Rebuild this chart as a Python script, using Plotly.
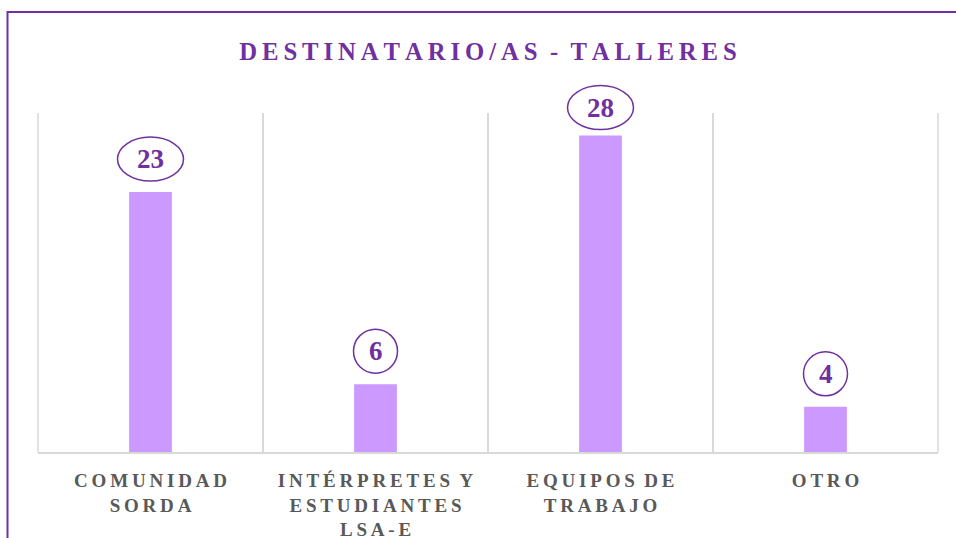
import plotly.graph_objects as go

categories = ["COMUNIDAD SORDA", "INTÉRPRETES Y ESTUDIANTES LSA-E", "EQUIPOS DE TRABAJO", "OTRO"]
tick_lines = [["COMUNIDAD", "SORDA"], ["INTÉRPRETES Y", "ESTUDIANTES", "LSA-E"], ["EQUIPOS DE", "TRABAJO"], ["OTRO"]]
values = [23, 6, 28, 4]
title_text = "DESTINATARIO/AS - TALLERES"
YMAX = 30

PURPLE = "#7030A0"
BAR = "#CC99FF"
GRID = "#D9D9D9"
LABEL = "#595959"
FONT = "Liberation Serif"

W, H = 956, 538
L, R, T, B = 38, 18, 113, 86
PH = H - T - B


def spaced(s, gap=" ", wordgap="\u00a0\u00a0\u00a0"):
    words = s.split(" ")
    return wordgap.join(gap.join(list(w)) for w in words)


ticktext = ["<b>" + "</b><br><b>".join(spaced(l, gap="\u2009", wordgap="\u00a0\u00a0") for l in lines) + "</b>"
            for lines in tick_lines]

fig = go.Figure()
fig.add_trace(go.Bar(
    x=categories, y=values, marker=dict(color=BAR, line=dict(width=0)),
    width=0.19, hoverinfo="skip",
))

vmax = max(values)
n = len(categories)
for i, v in enumerate(values):
    two = len(str(v)) > 1
    off = 28 if v == vmax else 33
    fig.add_shape(type="circle", xref="paper", yref="paper", xsizemode="pixel", ysizemode="pixel",
                  xanchor=(i + 0.5) / n, yanchor=v / YMAX,
                  x0=-(33 if two else 22), x1=(33 if two else 22),
                  y0=off - 22, y1=off + 22,
                  line=dict(color=PURPLE, width=1.5), fillcolor="white", layer="above")
    fig.add_annotation(x=i, y=v, text=f"<b>{v}</b>", showarrow=False, yshift=off,
                       font=dict(family=FONT, size=27, color=PURPLE))

# outer edge gridlines of the plot area
for xe in (0, 1):
    fig.add_shape(type="line", xref="paper", yref="paper", x0=xe, x1=xe, y0=0, y1=1,
                  line=dict(color=GRID, width=1.5), layer="below")

# outer chart border (extends beyond the visible frame)
fig.add_shape(type="rect", xref="paper", yref="paper", x0=(7.5 - L) / (W - L - R), x1=1.5,
              y0=-1, y1=(H - B - 12) / PH, line=dict(color=PURPLE, width=2), layer="above")

fig.update_layout(
    width=W, height=H,
    margin=dict(l=L, r=R, t=T, b=B, autoexpand=False),
    paper_bgcolor="white", plot_bgcolor="white",
    showlegend=False,
    title=dict(text="<b>" + spaced(title_text, gap="\u2009", wordgap="\u00a0\u00a0") + "</b>",
               xref="paper", x=0.5, xanchor="center", y=1 - 51 / H, yanchor="middle",
               font=dict(family=FONT, size=24.7, color=PURPLE)),
    xaxis=dict(type="category", tickson="boundaries", showgrid=True, gridcolor=GRID, gridwidth=1.5,
               tickmode="array", tickvals=categories, ticktext=ticktext, automargin=False,
               ticks="", showline=True, linecolor=GRID, linewidth=2,
               tickfont=dict(family=FONT, size=19, color=LABEL), ticklabelstandoff=10,
               range=[-0.5, 3.5], tickangle=0),
    yaxis=dict(range=[0, YMAX], visible=False, showgrid=False),
)

fig.write_html("out.html", config={"displayModeBar": False},
               post_script="document.body.style.margin='0';")
